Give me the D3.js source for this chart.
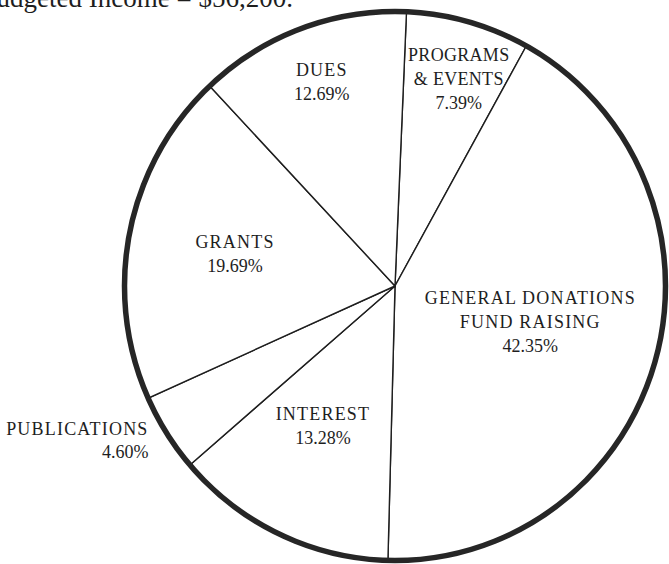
<!DOCTYPE html>
<html>
<head>
<meta charset="utf-8">
<title>Budgeted Income</title>
<script src="https://cdn.jsdelivr.net/npm/d3@7/dist/d3.min.js"></script>
<style>
  body { margin: 0; background: #fff; }
  text { font-family: "Liberation Serif", "Times New Roman", serif; fill: #1e1e1e; }
</style>
</head>
<body>
<div id="chart"></div>
<script>

// data
var categories = ["PROGRAMS\n& EVENTS", "GENERAL DONATIONS\nFUND RAISING", "INTEREST", "PUBLICATIONS", "GRANTS", "DUES"];
var shares = [7.39, 42.35, 13.28, 4.60, 19.69, 12.69];
var title = "Total Budgeted Income = $56,200.";

// label placement (layout only): radius from centre, small angle nudge in degrees, letter spacing
var labelRadius = [214, 140, 156, 290, 163, 214];
var labelNudge = [1.6, -0.4, 2.1, 0.6, -0.3, 0.4];
var labelSpacing = [0.3, 1.2, 1.2, 1.2, 1.2, 1.2];
var rotation = 1.5; // degrees, the hand-drawn pie sits slightly turned

var width = 669, height = 564;
var cx = 395, cy = 286, rx = 270.5, ry = 274.5;

var svg = d3.select("#chart")
  .append("svg")
    .attr("width", width)
    .attr("height", height);

// title, cut off by the top-left edge as in the scan
svg.append("text")
  .attr("x", 293)
  .attr("y", 7)
  .attr("text-anchor", "end")
  .style("font-size", "27px")
  .text(title);

var total = d3.sum(shares);
// general donations / interest boundary sits (nearly) straight down
var start = Math.PI - (shares[0] + shares[1]) / total * 2 * Math.PI + rotation * Math.PI / 180;

var pie = d3.pie()
  .sort(null)
  .startAngle(start)
  .endAngle(start + 2 * Math.PI);

var arcs = pie(shares);

var arc = d3.arc()
  .innerRadius(0)
  .outerRadius(rx);

var g = svg.append("g")
  .attr("transform", "translate(" + cx + "," + cy + ") scale(1," + (ry / rx) + ")");

g.selectAll("path.slice")
  .data(arcs)
  .enter()
  .append("path")
    .attr("class", "slice")
    .attr("d", arc)
    .attr("fill", "#fff")
    .attr("stroke", "#1e1e1e")
    .attr("stroke-width", 1.4)
    .attr("vector-effect", "non-scaling-stroke");

g.append("circle")
  .attr("r", rx)
  .attr("fill", "none")
  .attr("stroke", "#262626")
  .attr("stroke-width", 5.5)
  .attr("vector-effect", "non-scaling-stroke");

// labels
var lineH = 24;
arcs.forEach(function (d, i) {
  var mid = (d.startAngle + d.endAngle) / 2 + labelNudge[i] * Math.PI / 180;
  var px = cx + labelRadius[i] * Math.sin(mid);
  var py = cy - labelRadius[i] * (ry / rx) * Math.cos(mid);
  var lines = categories[i].split("\n");
  lines.push(shares[i].toFixed(2) + "%");
  var outside = labelRadius[i] > rx;
  var y0 = py - (lines.length - 1) * lineH / 2 + 6;
  var t = svg.append("text")
    .attr("text-anchor", outside ? "end" : "middle")
    .style("font-size", "18px");
  lines.forEach(function (s, k) {
    var last = k === lines.length - 1;
    t.append("tspan")
      .attr("x", px)
      .attr("y", y0 + k * lineH - (outside && last ? 1 : 0))
      .style("letter-spacing", last ? "0px" : labelSpacing[i] + "px")
      .text(s);
  });
});

</script>
</body>
</html>
